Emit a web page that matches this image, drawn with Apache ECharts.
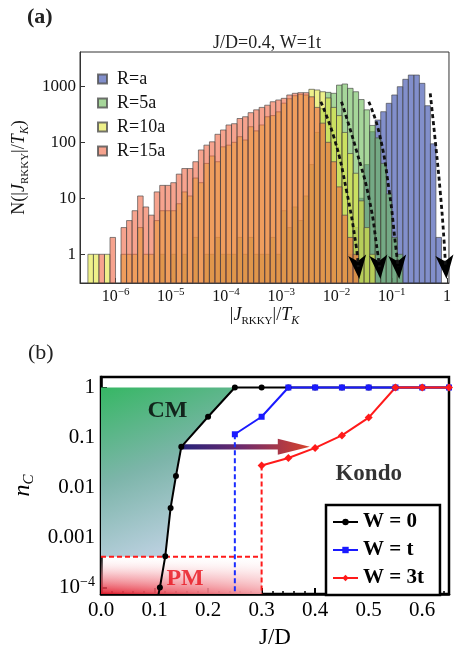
<!DOCTYPE html>
<html>
<head>
<meta charset="utf-8">
<script src="https://cdn.jsdelivr.net/npm/echarts@6/dist/echarts.min.js"></script>
<style>
  html, body { margin: 0; padding: 0; background: #fff; }
  #chart { width: 454px; height: 654px; }
</style>
</head>
<body>
<div id="chart"></div>
<script>
(function () {
  "use strict";

  var SERIF = '"Liberation Serif", "DejaVu Serif", serif';

  // ---- panel (a): histograms, bins 0.1 decade wide, first left edge at 10^-6.5
  var BIN_START = -6.5;
  var BIN_STEP = 0.1;
  var histNames = ["R=a", "R=5a", "R=10a", "R=15a"];
  var histColors = ["rgba(40,62,165,0.58)", "rgba(107,187,87,0.6)", "rgba(227,230,60,0.6)", "rgba(240,96,60,0.58)"];

  var raFrom = 47;
  var raCounts = [1, 3, 10, 40, 155, 250, 352, 497, 700, 984, 1334, 1590, 1590, 1130, 450, 94, 2];
  var r5From = 13;
  var r5Counts = [1, 0, 1, 0, 1, 0, 2, 0, 1, 1, 2, 1, 1, 1, 2, 1, 2, 1, 1, 1, 2, 1, 6, 3, 7, 4, 11,
    40, 150, 400, 780, 750, 1050, 1100, 920, 800, 580, 380, 200, 120, 42, 12, 2, 1];
  var r10From = 0;
  var r10Counts = [1, 1, 0, 1, 0, 0, 1, 1, 1, 3, 1, 1, 4, 6, 6, 6, 8, 13, 11, 23, 19, 42, 57, 45, 83, 89,
    100, 126, 110, 190, 160, 204, 286, 300, 350, 500, 600, 680, 720, 700, 884, 860, 800, 620, 420, 300,
    150, 63, 28, 9, 3, 1];
  var r15From = 2;
  var r15Counts = [1, 0, 2, 0, 3, 4, 6, 11, 7, 5, 13, 17, 17, 19, 27, 34, 34, 45, 73, 89, 102, 139, 166,
    204, 215, 266, 286, 338, 380, 420, 460, 530, 570, 610, 700, 750, 770, 770, 650, 420, 220, 100, 45,
    16, 5, 2, 1];

  // dotted guide arrows; the last point of each is where the arrow head sits
  var guide1 = [[5.2e-3, 530], [9.3e-3, 110], [1.51e-2, 14], [2.28e-2, 1.37], [2.47e-2, 0.59]];
  var guide2 = [[1.23e-2, 530], [2.28e-2, 73], [3.94e-2, 9.3], [5.56e-2, 1.05], [5.98e-2, 0.59]];
  var guide3 = [[3.84e-2, 530], [5.93e-2, 146], [8.95e-2, 14], [0.118, 1.37], [0.131, 0.59]];
  var guide4 = [[0.497, 750], [0.611, 110], [0.75, 14], [0.883, 1.8], [0.94, 0.59]];

  var H_XMIN = 2.275e-7, H_XMAX = 1.086;
  var H_YMIN = 0.307, H_YMAX = 4100;

  // ---- panel (b): n_C versus J/D
  var P_YMIN = 7.41e-5, P_YMAX = 1.622;
  var lineW0 = [[0.1, 3e-5], [0.11, 1e-4], [0.12, 4.2e-4], [0.13, 3.9e-3], [0.14, 0.017], [0.15, 0.065],
    [0.2, 0.26], [0.25, 1], [0.3, 1], [0.35, 1], [0.4, 1], [0.45, 1], [0.5, 1], [0.55, 1], [0.6, 1], [0.65, 1]];
  var lineW1 = [[0.25, 0.116], [0.3, 0.26], [0.35, 1], [0.4, 1], [0.45, 1], [0.5, 1], [0.55, 1], [0.6, 1], [0.65, 1]];
  var lineW3 = [[0.3, 0.0275], [0.35, 0.039], [0.4, 0.062], [0.45, 0.11], [0.5, 0.25], [0.55, 1], [0.6, 1], [0.65, 1]];
  var dashW1 = [[0.25, 0.116], [0.25, P_YMIN]];
  var dashW3v = [[0.3, 0.0275], [0.3, P_YMIN]];
  var dashW3h = [[0, 4.1e-4], [0.3, 4.1e-4]];
  var cmRegion = [[0, 1], [0.25, 1], [0.2, 0.26], [0.15, 0.065], [0.14, 0.017], [0.13, 0.0039], [0.12, 4.1e-4], [0, 4.1e-4]];
  var pmRegion = [[0, 4.1e-4], [0.3, 4.1e-4], [0.3, P_YMIN], [0, P_YMIN]];
  var flowArrow = [[0.15, 0.065, 0.39, 0.065]];
  var phaseLabels = [["CM", 0.124, 0.35], ["Kondo", 0.5, 0.0185], ["PM", 0.157, 1.47e-4]];

  function binData(from, counts) {
    var out = [];
    for (var k = 0; k < counts.length; k++) {
      if (!counts[k]) continue;
      var lo = BIN_START + (from + k) * BIN_STEP;
      out.push([Math.pow(10, lo), Math.pow(10, lo + BIN_STEP), counts[k]]);
    }
    return out;
  }

  function barItem(params, api) {
    var top = api.coord([api.value(0), api.value(2)]);
    var base = api.coord([api.value(1), H_YMIN]);
    return {
      type: "rect",
      shape: { x: top[0], y: top[1], width: base[0] - top[0], height: base[1] - top[1] },
      style: { fill: api.visual("color"), stroke: "rgba(70,70,70,0.65)", lineWidth: 1 }
    };
  }

  function polygonItem(points, fill) {
    return function (params, api) {
      if (params.dataIndex !== 0) return null;
      return {
        type: "polygon",
        shape: { points: points.map(function (p) { return api.coord(p); }) },
        style: { fill: fill }
      };
    };
  }

  function arrowItem(params, api) {
    var a = api.coord([api.value(0), api.value(1)]);
    var b = api.coord([api.value(2), api.value(3)]);
    var y = a[1], hl = 32, hw = 8, sw = 2.6;
    return {
      type: "polygon",
      shape: { points: [[a[0], y - sw], [b[0] - hl, y - sw], [b[0] - hl, y - hw], [b[0], y],
        [b[0] - hl, y + hw], [b[0] - hl, y + sw], [a[0], y + sw]] },
      style: {
        fill: new echarts.graphic.LinearGradient(0, 0, 1, 0, [
          { offset: 0, color: "#25237a" }, { offset: 0.45, color: "#6a2a6e" }, { offset: 1, color: "#d8432c" }
        ])
      }
    };
  }

  function isPow10(v) {
    var l = Math.log10(v);
    return Math.abs(l - Math.round(l)) < 1e-6;
  }

  function powLabel(v) {
    if (!isPow10(v)) return "";
    var e = Math.round(Math.log10(v));
    if (e === 0) return "{b|1}";
    return "{b|10}{p|" + (e < 0 ? "\u2212" : "") + Math.abs(e) + "}";
  }

  function histSeries(i, from, counts) {
    return {
      name: histNames[i],
      type: "custom",
      xAxisIndex: 0,
      yAxisIndex: 0,
      renderItem: barItem,
      encode: { x: [0, 1], y: 2 },
      itemStyle: { color: histColors[i], borderColor: "rgba(80,80,80,0.8)", borderWidth: 1 },
      data: binData(from, counts)
    };
  }

  function guideSeries(pts) {
    return {
      type: "line",
      xAxisIndex: 0,
      yAxisIndex: 0,
      smooth: true,
      showSymbol: false,
      silent: true,
      lineStyle: { color: "#111", width: 2.8, type: [4, 3] },
      data: pts
    };
  }

  function fillSeries(points, fill) {
    return {
      type: "custom", xAxisIndex: 1, yAxisIndex: 1, silent: true, clip: true,
      renderItem: polygonItem(points, fill), data: points
    };
  }

  var heads = [guide1, guide2, guide3, guide4].map(function (g) { return g[g.length - 1]; });

  var chart = echarts.init(document.getElementById("chart"), null, { renderer: "canvas" });

  var richA = {
    b: { fontFamily: SERIF, fontSize: 16, lineHeight: 20, color: "#111" },
    p: { fontFamily: SERIF, fontSize: 11, lineHeight: 11, verticalAlign: "top", color: "#111" }
  };
  var richB = {
    b: { fontFamily: SERIF, fontSize: 21, lineHeight: 24, color: "#000" },
    p: { fontFamily: SERIF, fontSize: 14, lineHeight: 14, verticalAlign: "top", color: "#000" }
  };
  var richName = {
    t: { fontFamily: SERIF, fontSize: 18, lineHeight: 24, color: "#111" },
    i: { fontFamily: SERIF, fontStyle: "italic", fontSize: 18, lineHeight: 24, color: "#111" },
    s: { fontFamily: SERIF, fontSize: 11, lineHeight: 11, verticalAlign: "bottom", color: "#111" },
    si: { fontFamily: SERIF, fontStyle: "italic", fontSize: 12, lineHeight: 12, verticalAlign: "bottom", color: "#111" }
  };

  chart.setOption({
    backgroundColor: "#fff",
    animation: false,
    graphic: [
      { type: "text", x: 27, y: 6, style: { text: "(a)", font: 'bold 22px "Liberation Serif"', fill: "#222" } },
      { type: "text", x: 28, y: 342, style: { text: "(b)", font: '22px "Liberation Serif"', fill: "#222" } },
      { type: "text", x: 267, y: 43, style: { text: "J/D=0.4, W=1t", font: '18px "Liberation Serif"', fill: "#222",
        textAlign: "center", textVerticalAlign: "middle" } }
    ],
    legend: [
      {
        left: 92, top: 64, orient: "vertical", icon: "rect", itemWidth: 9, itemHeight: 9, itemGap: 4,
        selectedMode: false, data: histNames,
        textStyle: { fontFamily: SERIF, fontSize: 18, color: "#111", lineHeight: 20, padding: [0, 0, 0, 5] }
      },
      {
        left: 326, top: 505, orient: "vertical", itemWidth: 25, itemHeight: 8, itemGap: 6,
        padding: [6, 16, 6, 6], backgroundColor: "#fff", borderColor: "#000", borderWidth: 2.5,
        selectedMode: false, data: ["W = 0", "W = t", "W = 3t"],
        textStyle: { fontFamily: SERIF, fontWeight: "bold", fontSize: 21, color: "#000", lineHeight: 22 }
      }
    ],
    grid: [
      { left: 80, top: 52, width: 374, height: 231, show: true, borderColor: "#333", borderWidth: 1 },
      { left: 101, top: 377, width: 348, height: 217, show: true, borderColor: "#000", borderWidth: 2.5 }
    ],
    xAxis: [
      {
        gridIndex: 0, type: "log", min: H_XMIN, max: H_XMAX,
        axisLine: { lineStyle: { color: "#333", width: 1 } },
        axisTick: { inside: true, length: 5, lineStyle: { color: "#333" } },
        axisLabel: { margin: 4, formatter: powLabel, rich: richA, showMinLabel: false, showMaxLabel: false },
        splitLine: { show: false },
        name: "{t||}{i|J}{s|RKKY}{t||/}{i|T}{si|K}", nameLocation: "middle", nameGap: 20,
        nameTextStyle: { rich: richName }
      },
      {
        gridIndex: 1, type: "value", min: 0, max: 0.65, interval: 0.1,
        axisLine: { lineStyle: { color: "#000", width: 2.5 } },
        axisTick: { inside: true, length: 6, lineStyle: { color: "#000", width: 2 } },
        minorTick: { show: true, splitNumber: 5, length: 3, lineStyle: { color: "#000", width: 1.5 } },
        axisLabel: { margin: 6, fontFamily: SERIF, fontSize: 21, color: "#000", showMaxLabel: false,
          formatter: function (v) { return v.toFixed(1); } },
        splitLine: { show: false },
        name: "J/D", nameLocation: "middle", nameGap: 32,
        nameTextStyle: { fontFamily: SERIF, fontSize: 23, color: "#000" }
      }
    ],
    yAxis: [
      {
        gridIndex: 0, type: "log", min: H_YMIN, max: H_YMAX,
        axisLine: { lineStyle: { color: "#333", width: 1 } },
        axisTick: { inside: true, length: 5, lineStyle: { color: "#333" } },
        axisLabel: { margin: 4, fontFamily: SERIF, fontSize: 17, color: "#111", showMinLabel: false, showMaxLabel: false,
          formatter: function (v) { return isPow10(v) ? String(Math.round(v)) : ""; } },
        splitLine: { show: false },
        name: "{t|N(|}{i|J}{s|RKKY}{t||/}{i|T}{si|K}{t|)}", nameLocation: "middle", nameGap: 48,
        nameTextStyle: { rich: richName }
      },
      {
        gridIndex: 1, type: "log", min: P_YMIN, max: P_YMAX,
        axisLine: { lineStyle: { color: "#000", width: 2.5 } },
        axisTick: { inside: true, length: 6, lineStyle: { color: "#000", width: 2 } },
        axisLabel: { margin: 6, rich: richB, showMinLabel: false, showMaxLabel: false,
          formatter: function (v) {
            if (!isPow10(v)) return "";
            var e = Math.round(Math.log10(v));
            return e >= -3 ? "{b|" + (e === 0 ? "1" : v.toFixed(-e)) + "}" : powLabel(v);
          } },
        splitLine: { show: false },
        name: "{i|n}{s|C}", nameLocation: "middle", nameGap: 60,
        nameTextStyle: { rich: {
          i: { fontFamily: SERIF, fontStyle: "italic", fontSize: 24, lineHeight: 28, color: "#000" },
          s: { fontFamily: SERIF, fontStyle: "italic", fontSize: 15, lineHeight: 15, verticalAlign: "bottom", color: "#000" }
        } }
      }
    ],
    series: [
      histSeries(0, raFrom, raCounts),
      histSeries(1, r5From, r5Counts),
      histSeries(2, r10From, r10Counts),
      histSeries(3, r15From, r15Counts),
      guideSeries(guide1),
      guideSeries(guide2),
      guideSeries(guide3),
      guideSeries(guide4),
      {
        type: "scatter", xAxisIndex: 0, yAxisIndex: 0, silent: true,
        symbol: "path://M0,0 L5,3 L10,0 L5,12 Z", symbolSize: [18, 24], symbolRotate: 5,
        itemStyle: { color: "#000", opacity: 1 }, data: heads
      },
      // panel (b)
      fillSeries(cmRegion, new echarts.graphic.LinearGradient(0, 0, 0.5, 1, [
        { offset: 0, color: "#36b764" }, { offset: 0.5, color: "#7db5aa" }, { offset: 1, color: "#bfd2e3" }
      ])),
      fillSeries(pmRegion, new echarts.graphic.LinearGradient(0, 1, 0, 0, [
        { offset: 0, color: "rgba(228,28,44,0.95)" }, { offset: 0.5, color: "rgba(242,140,150,0.6)" },
        { offset: 1, color: "rgba(255,255,255,0.1)" }
      ])),
      fillSeries(pmRegion, new echarts.graphic.LinearGradient(0, 0, 1, 0, [
        { offset: 0, color: "rgba(255,255,255,0)" }, { offset: 1, color: "rgba(255,255,255,0.55)" }
      ])),
      { type: "line", xAxisIndex: 1, yAxisIndex: 1, silent: true, showSymbol: false, data: dashW1,
        lineStyle: { color: "#1a2cff", width: 2, type: [5, 3] } },
      { type: "line", xAxisIndex: 1, yAxisIndex: 1, silent: true, showSymbol: false, data: dashW3v,
        lineStyle: { color: "#ff1a1a", width: 2, type: [5, 3] } },
      { type: "line", xAxisIndex: 1, yAxisIndex: 1, silent: true, showSymbol: false, data: dashW3h,
        lineStyle: { color: "#ff1a1a", width: 2, type: [5, 3] } },
      { name: "W = 0", type: "line", xAxisIndex: 1, yAxisIndex: 1, data: lineW0,
        symbol: "circle", symbolSize: 6, itemStyle: { color: "#000" }, lineStyle: { color: "#000", width: 2 } },
      { name: "W = t", type: "line", xAxisIndex: 1, yAxisIndex: 1, data: lineW1,
        symbol: "rect", symbolSize: 6, itemStyle: { color: "#1a1aff" }, lineStyle: { color: "#1a1aff", width: 2 } },
      { name: "W = 3t", type: "line", xAxisIndex: 1, yAxisIndex: 1, data: lineW3,
        symbol: "diamond", symbolSize: 8, itemStyle: { color: "#ff1a1a" }, lineStyle: { color: "#ff1a1a", width: 2 } },
      {
        type: "custom", xAxisIndex: 1, yAxisIndex: 1, silent: true,
        renderItem: arrowItem, encode: { x: [0, 2], y: [1, 3] }, data: flowArrow
      },
      {
        type: "scatter", xAxisIndex: 1, yAxisIndex: 1, silent: true, symbolSize: 0,
        data: phaseLabels.map(function (l) {
          return {
            name: l[0], value: [l[1], l[2]],
            label: {
              show: true, position: "inside", formatter: "{b}", fontFamily: SERIF, fontWeight: "bold",
              fontSize: l[0] === "Kondo" ? 23 : 24, color: l[0] === "PM" ? "#e8101a" : "#000"
            }
          };
        })
      }
    ]
  });
})();
</script>
</body>
</html>
